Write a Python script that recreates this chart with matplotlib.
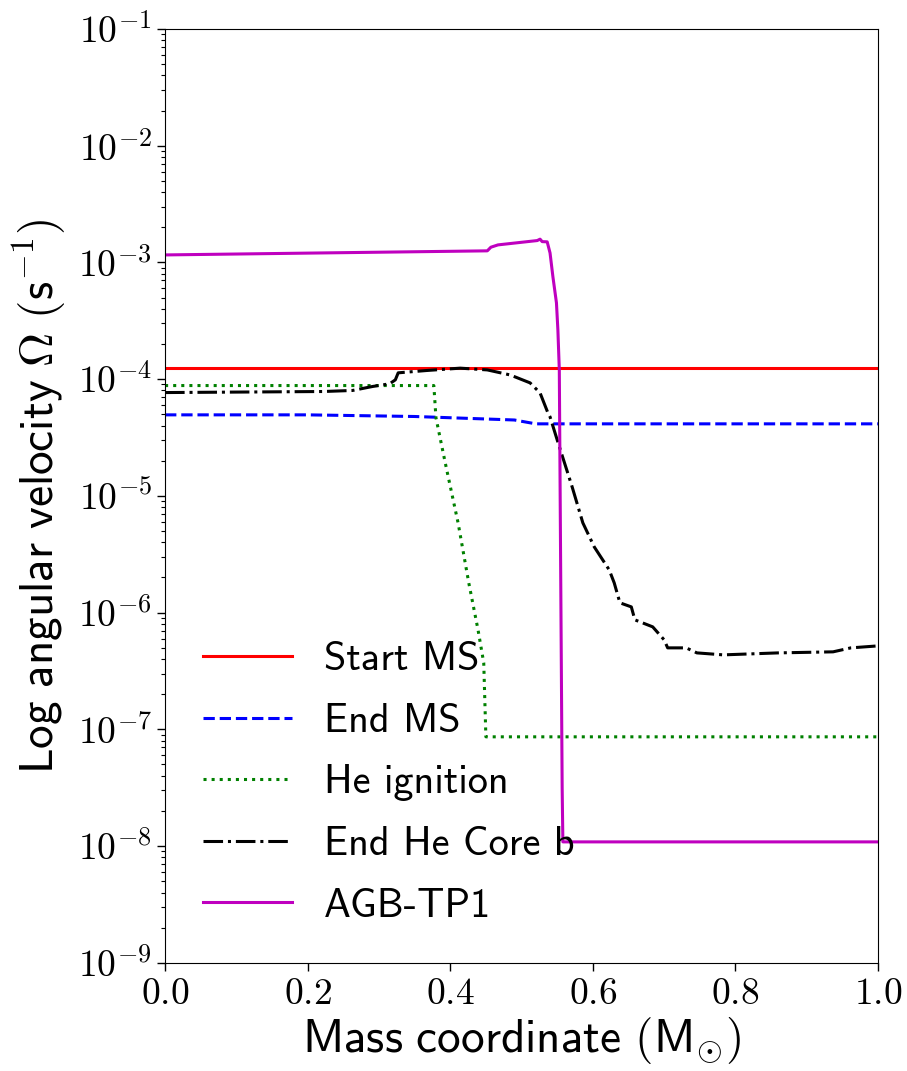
import numpy as np
import matplotlib
matplotlib.use("Agg")
import matplotlib.pyplot as plt
from matplotlib.ticker import FuncFormatter, LogLocator

plt.rcParams["mathtext.fontset"] = "cm"

# data (mass in Msun, log10 Omega)
m_start = [0.0, 1.0]
w_start = [-3.904, -3.904]

m_endms = [0.0, 0.2, 0.35, 0.49, 0.52, 0.6, 1.0]
w_endms = [-4.306, -4.306, -4.32, -4.35, -4.383, -4.383, -4.383]

m_heign = [0.0, 0.377, 0.380, 0.393, 0.411, 0.426, 0.439, 0.447, 0.450, 1.0]
w_heign = [-4.055, -4.055, -4.332, -4.717, -5.231, -5.745, -6.148, -6.430, -7.064, -7.064]

m_endhe = [0.0, 0.222, 0.263, 0.291, 0.315, 0.323, 0.327, 0.367, 0.414, 0.452,
           0.484, 0.512, 0.526, 0.537, 0.540, 0.550, 0.571, 0.586, 0.602, 0.623,
           0.630, 0.638, 0.654, 0.659, 0.684, 0.700, 0.705, 0.731, 0.746, 0.783,
           0.860, 0.937, 0.962, 1.0]
w_endhe = [-4.115, -4.106, -4.097, -4.063, -4.040, -4.006, -3.946, -3.926, -3.906, -3.921,
           -3.964, -4.032, -4.118, -4.289, -4.323, -4.520, -4.923, -5.231, -5.437, -5.634,
           -5.745, -5.916, -5.951, -6.062, -6.122, -6.233, -6.302, -6.302, -6.345, -6.362,
           -6.345, -6.336, -6.302, -6.285]

m_agb = [0.0, 0.452, 0.457, 0.467, 0.522, 0.526, 0.529, 0.536, 0.540, 0.544,
         0.549, 0.551, 0.553, 0.557, 0.558, 1.0]
w_agb = [-2.936, -2.901, -2.870, -2.850, -2.813, -2.801, -2.822, -2.824, -2.919, -3.122,
         -3.347, -3.578, -3.921, -7.5, -7.964, -7.964]

labels = ["Start MS", "End MS", "He ignition", "End He Core b", "AGB-TP1"]

fig = plt.figure(figsize=(9.07, 10.71), dpi=100)
ax = fig.add_axes([0.182, 0.101, 0.786, 0.872])

ax.plot(m_start, 10 ** np.array(w_start), color="r", lw=2.2, ls="-", label=labels[0])
ax.plot(m_endms, 10 ** np.array(w_endms), color="b", lw=2.2, ls="--", label=labels[1])
ax.plot(m_heign, 10 ** np.array(w_heign), color="g", lw=2.2, ls=":", label=labels[2])
ax.plot(m_endhe, 10 ** np.array(w_endhe), color="k", lw=2.2, ls="-.", label=labels[3])
ax.plot(m_agb, 10 ** np.array(w_agb), color="m", lw=2.2, ls="-", label=labels[4])

ax.set_yscale("log")
ax.set_xlim(0, 1)
ax.set_ylim(1e-9, 1e-1)
ax.yaxis.set_major_locator(LogLocator(base=10, numticks=20))
ax.yaxis.set_minor_locator(LogLocator(base=10, subs=np.arange(2, 10), numticks=100))
ax.yaxis.set_major_formatter(FuncFormatter(lambda v, p: r"$10^{%d}$" % round(np.log10(v))))
ax.set_xticks([0.0, 0.2, 0.4, 0.6, 0.8, 1.0])
ax.xaxis.set_major_formatter(FuncFormatter(lambda v, p: r"$%.1f$" % v))
ax.tick_params(axis="both", which="major", labelsize=27, length=6, width=1)
ax.tick_params(axis="y", which="minor", length=3, width=0.8)

ax.set_xlabel(r"$\mathsf{Mass\ coordinate\ (M_{\odot})}$", fontsize=34, labelpad=2)
ax.set_ylabel(r"$\mathsf{Log\ angular\ velocity\ }\mathit{\Omega}\mathsf{\ (s^{-1})}$",
              fontsize=34, labelpad=6)

ax.legend(loc="lower left", frameon=False, prop={"family": "cmss10", "size": 29},
          handlelength=2.2, handletextpad=0.8, labelspacing=0.61, borderaxespad=0.55)

fig.savefig("out.png", dpi=100)
